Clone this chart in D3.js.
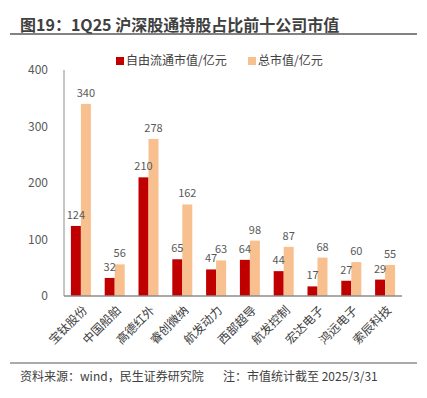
<!DOCTYPE html>
<html>
<head>
<meta charset="utf-8">
<script src="https://cdn.jsdelivr.net/npm/d3@7"></script>
<style>
  body { margin: 0; background: #fff; }
  text { font-family: "Noto Sans CJK SC", "Noto Sans", sans-serif; }
</style>
</head>
<body>
<div id="chart"></div>
<script>
// chart data
let companies = ["宝钛股份", "中国船舶", "高德红外", "睿创微纳", "航发动力", "西部超导", "航发控制", "宏达电子", "鸿远电子", "索辰科技"];
let freeFloat = [124, 32, 210, 65, 47, 64, 44, 17, 27, 29];
let totalCap = [340, 56, 278, 162, 63, 98, 87, 68, 60, 55];
let yTicks = [0, 100, 200, 300, 400];
let seriesNames = ["自由流通市值/亿元", "总市值/亿元"];
let colors = ["#C00000", "#F8C08E"];

function drawChart() {
	let width = 427, height = 398;
	let margin = { top: 70, left: 64, right: 25, bottom: 102 };
	let plotW = width - margin.left - margin.right;
	let plotH = height - margin.top - margin.bottom;

	let svg = d3.select("#chart")
		.append("svg")
		.attr("width", width)
		.attr("height", height);

	// title
	svg.append("text")
		.attr("x", 20)
		.attr("y", 31)
		.style("font-size", "16px")
		.style("font-weight", "bold")
		.attr("fill", "#404040")
		.text("图19：1Q25 沪深股通持股占比前十公司市值");

	svg.append("line")
		.attr("x1", 10).attr("x2", 417)
		.attr("y1", 34).attr("y2", 34)
		.attr("stroke", "#595959").attr("stroke-width", 1.5);

	let xScale = d3.scaleBand().domain(companies).range([0, plotW]);
	let yScale = d3.scaleLinear().domain([0, 400]).range([plotH, 0]);
	let barW = 10;

	let g = svg.append("g")
		.attr("transform", "translate(" + margin.left + "," + margin.top + ")");

	// y axis labels
	g.selectAll(".ytick")
		.data(yTicks)
		.enter().append("text")
		.attr("x", -16)
		.attr("y", function (d) { return yScale(d); })
		.attr("dy", "0.35em")
		.attr("text-anchor", "end")
		.style("font-size", "12px")
		.attr("fill", "#595959")
		.text(function (d) { return d; });

	let series = [freeFloat, totalCap];
	let barLayer = g.append("g");
	let labelLayer = g.append("g");

	series.forEach(function (vals, s) {
		let data = companies.map(function (c, i) { return { c: c, v: vals[i] }; });
		let xOff = function (d) { return xScale(d.c) + xScale.bandwidth() / 2 - barW + s * barW; };

		barLayer.selectAll(".bar" + s)
			.data(data)
			.enter().append("rect")
			.attr("x", xOff)
			.attr("y", function (d) { return yScale(d.v); })
			.attr("width", barW)
			.attr("height", function (d) { return plotH - yScale(d.v); })
			.attr("fill", colors[s]);

		labelLayer.selectAll(".lbl" + s)
			.data(data)
			.enter().append("text")
			.attr("x", function (d) { return xOff(d) + barW / 2; })
			.attr("y", function (d) { return yScale(d.v) - 7; })
			.attr("text-anchor", "middle")
			.style("font-size", "11px")
			.attr("fill", "#595959")
			.text(function (d) { return d.v; });
	});

	// axes lines
	g.append("line")
		.attr("x1", 0).attr("x2", 0)
		.attr("y1", 0).attr("y2", plotH)
		.attr("stroke", "#8c8c8c");
	g.append("line")
		.attr("x1", 0).attr("x2", plotW)
		.attr("y1", plotH).attr("y2", plotH)
		.attr("stroke", "#8c8c8c").attr("stroke-width", 1.5);

	// rotated category labels
	g.selectAll(".xlbl")
		.data(companies)
		.enter().append("text")
		.attr("transform", function (d) {
			return "translate(" + (xScale(d) + xScale.bandwidth() / 2 + 4) + "," + (plotH + 12) + ") rotate(-45)";
		})
		.attr("text-anchor", "end")
		.attr("dy", "0.35em")
		.style("font-size", "12px")
		.attr("fill", "#404040")
		.text(function (d) { return d; });

	// legend
	let legX = [116, 248];
	seriesNames.forEach(function (n, s) {
		svg.append("rect")
			.attr("x", legX[s]).attr("y", 57)
			.attr("width", 8).attr("height", 8)
			.attr("fill", colors[s]);
		svg.append("text")
			.attr("x", legX[s] + 10).attr("y", 61)
			.attr("dy", "0.35em")
			.style("font-size", "12px")
			.attr("fill", "#404040")
			.text(n);
	});

	// footer
	svg.append("line")
		.attr("x1", 10).attr("x2", 417)
		.attr("y1", 363).attr("y2", 363)
		.attr("stroke", "#595959").attr("stroke-width", 1.2);
	svg.append("text")
		.attr("x", 20).attr("y", 381)
		.style("font-size", "12px")
		.attr("fill", "#404040")
		.text("资料来源：wind，民生证券研究院");
	svg.append("text")
		.attr("x", 223).attr("y", 381)
		.style("font-size", "12px")
		.attr("fill", "#404040")
		.text("注：市值统计截至 2025/3/31");
}

drawChart();
</script>
</body>
</html>
